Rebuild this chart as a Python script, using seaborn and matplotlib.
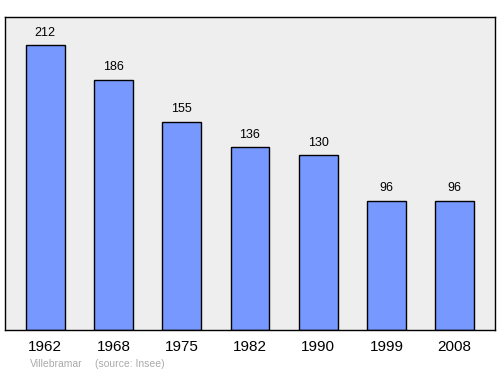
import matplotlib
matplotlib.use("Agg")
import matplotlib.pyplot as plt
import seaborn as sns
import pandas as pd

years = ["1962", "1968", "1975", "1982", "1990", "1999", "2008"]
population = [212, 186, 155, 136, 130, 96, 96]

df = pd.DataFrame({"year": years, "pop": population})

sns.set_style("white")
plt.rcParams['font.family'] = ['Liberation Sans', 'DejaVu Sans']

fig = plt.figure(figsize=(5, 3.74), dpi=100)
ax = fig.add_axes([0.01, 0.1176, 0.98, 0.8369])
ax.set_facecolor("#eeeeee")
sns.barplot(data=df, x="year", y="pop", ax=ax, color="#7799ff", saturation=1,
            width=0.57, edgecolor="black", linewidth=1)
ax.set_xlim(-0.59, 6.59)
ax.set_ylim(0, 233)
for i, v in enumerate(population):
    ax.text(i, v + 5, str(v), ha="center", va="bottom", fontsize=9, color="black")
ax.set_yticks([])
ax.set_xlabel("")
ax.set_ylabel("")
ax.tick_params(axis="x", length=0, labelsize=11, pad=7, labelcolor="black")
for s in ax.spines.values():
    s.set_color("black")
    s.set_linewidth(1)
fig.text(0.06, 0.02, "Villebramar", fontsize=7.5, color="#aaaaaa")
fig.text(0.19, 0.02, "(source: Insee)", fontsize=7.5, color="#aaaaaa")
fig.savefig("out.png", dpi=100)
